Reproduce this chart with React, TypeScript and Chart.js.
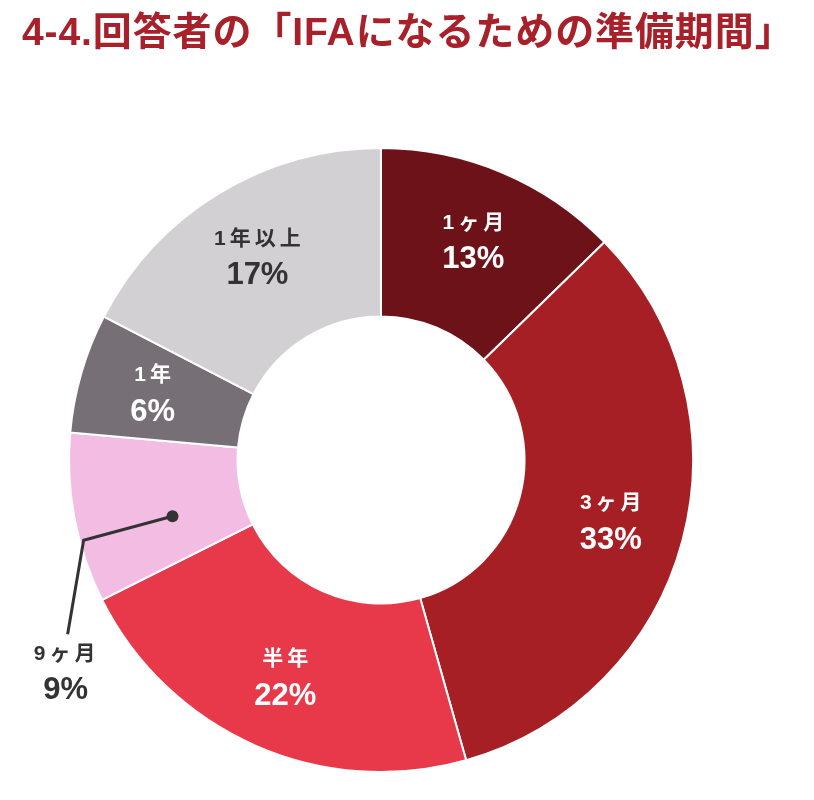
import React, { useEffect, useRef } from 'react';
import Chart from 'chart.js/auto';

const categories = ['1ヶ月', '3ヶ月', '半年', '9ヶ月', '1年', '1年以上'];
// slice sizes (angles), and the rounded labels shown
const shares = [12.7, 32.9, 22.0, 8.8, 6.2, 17.4];
const percentLabels = ['13%', '33%', '22%', '9%', '6%', '17%'];
const sliceColors = ['#6e1219', '#a51f25', '#e8394a', '#f3bde3', '#767076', '#d2d0d3'];
const labelColors = ['#ffffff', '#ffffff', '#ffffff', '#333333', '#ffffff', '#333333'];
// slice whose label sits outside with a leader line
const outsideIndex = 3;

const FONT = '"Liberation Sans", Arial, "Noto Sans CJK JP", sans-serif';

// centred text with extra space between characters
function spacedText(ctx: CanvasRenderingContext2D, text: string, x: number, y: number, gap: number) {
  const chars = Array.from(text);
  const widths = chars.map((c) => ctx.measureText(c).width);
  const total = widths.reduce((a, b) => a + b, 0) + gap * (chars.length - 1);
  let cx = x - total / 2;
  ctx.textAlign = 'left';
  chars.forEach((c, i) => {
    ctx.fillText(c, cx, y);
    cx += widths[i] + gap;
  });
  ctx.textAlign = 'center';
}

const sliceLabels = {
  id: 'sliceLabels',
  afterDatasetsDraw(chart: any) {
    const ctx = chart.ctx;
    const meta = chart.getDatasetMeta(0);
    meta.data.forEach((arc: any, i: number) => {
      const p = arc.getProps(['x', 'y', 'startAngle', 'endAngle', 'innerRadius', 'outerRadius'], true);
      const mid = (p.startAngle + p.endAngle) / 2;
      ctx.save();
      ctx.textAlign = 'center';
      ctx.textBaseline = 'middle';
      if (i === outsideIndex) {
        const ang = mid - 0.075;
        const dotR = p.innerRadius + (p.outerRadius - p.innerRadius) * 0.43;
        const dx = p.x + Math.cos(ang) * dotR;
        const dy = p.y + Math.sin(ang) * dotR;
        const ex = p.x + Math.cos(ang) * (p.outerRadius - 4);
        const ey = p.y + Math.sin(ang) * (p.outerRadius - 4);
        const lx = ex - 16;
        const ly = ey + 94;
        ctx.strokeStyle = '#333333';
        ctx.lineWidth = 3;
        ctx.beginPath();
        ctx.moveTo(dx, dy);
        ctx.lineTo(ex, ey);
        ctx.lineTo(lx, ly);
        ctx.stroke();
        ctx.fillStyle = '#333333';
        ctx.beginPath();
        ctx.arc(dx, dy, 6, 0, Math.PI * 2);
        ctx.fill();
        ctx.font = 'bold 21px ' + FONT;
        spacedText(ctx, categories[i], lx - 3, ly + 20, 4);
        ctx.font = 'bold 31px ' + FONT;
        ctx.fillText(percentLabels[i], lx - 2, ly + 56);
      } else {
        const r = (p.innerRadius + p.outerRadius) / 2 + 10;
        const cx = p.x + Math.cos(mid) * r;
        const cy = p.y + Math.sin(mid) * r;
        ctx.fillStyle = labelColors[i];
        ctx.font = 'bold 21px ' + FONT;
        spacedText(ctx, categories[i], cx, cy - 18, 4);
        ctx.font = 'bold 31px ' + FONT;
        ctx.fillText(percentLabels[i], cx, cy + 19);
      }
      ctx.restore();
    });
  },
};

const App: React.FC = () => {
  const chartRef = useRef<HTMLCanvasElement>(null);
  const chartInstance = useRef<Chart | null>(null);

  useEffect(() => {
    document.body.style.margin = '0';
    if (!chartRef.current) return;
    if (chartInstance.current) chartInstance.current.destroy();
    const ctx = chartRef.current.getContext('2d');
    if (!ctx) return;

    chartInstance.current = new Chart(ctx, {
      type: 'doughnut',
      data: {
        labels: categories,
        datasets: [{
          data: shares,
          backgroundColor: sliceColors,
          borderColor: '#ffffff',
          borderWidth: 2,
        }],
      },
      options: {
        responsive: false,
        animation: false,
        cutout: '46%',
        layout: { padding: { left: 68, right: 120, top: 147, bottom: 27 } },
        plugins: {
          legend: { display: false },
          tooltip: { enabled: false },
        },
      },
      plugins: [sliceLabels],
    });

    return () => {
      if (chartInstance.current) {
        chartInstance.current.destroy();
        chartInstance.current = null;
      }
    };
  }, []);

  return (
    <div style={{ position: 'relative', width: 814, height: 800, background: '#fff' }}>
      <canvas ref={chartRef} width={814} height={800} style={{ position: 'absolute', left: 0, top: 0 }}></canvas>
      <div
        style={{
          position: 'absolute',
          left: 22,
          top: 9,
          fontFamily: FONT,
          fontWeight: 'bold',
          fontSize: 39,
          letterSpacing: 0.9,
          lineHeight: '46px',
          color: '#a8202a',
          whiteSpace: 'nowrap',
        }}
      >
        4-4.回答者の「IFAになるための準備期間」
      </div>
    </div>
  );
};

export default App;
